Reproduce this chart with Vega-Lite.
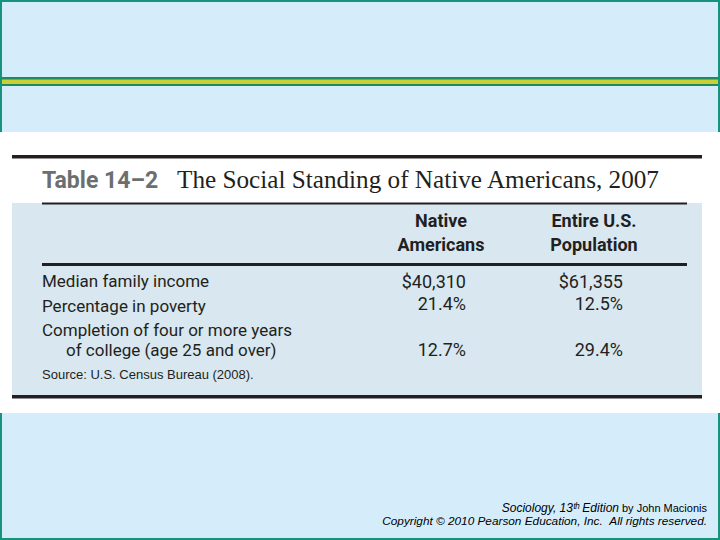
{
  "$schema": "https://vega.github.io/schema/vega-lite/v6.json",
  "width": 720,
  "height": 540,
  "padding": 0,
  "autosize": {"type": "none"},
  "background": "#D5EDFB",
  "config": {"view": {"stroke": null}},
  "datasets": {
    "rows": [
      {"item": "Median family income"},
      {"item": "Percentage in poverty"},
      {"item": "Completion of four or more years\n\u2800\u2800of college (age 25 and over)"}
    ],
    "cells": [
      {"item": "Median family income", "group": "Native Americans", "value": "$40,310"},
      {"item": "Median family income", "group": "Entire U.S. Population", "value": "$61,355"},
      {"item": "Percentage in poverty", "group": "Native Americans", "value": "21.4%"},
      {"item": "Percentage in poverty", "group": "Entire U.S. Population", "value": "12.5%"},
      {"item": "Completion of four or more years\n\u2800\u2800of college (age 25 and over)", "group": "Native Americans", "value": "12.7%"},
      {"item": "Completion of four or more years\n\u2800\u2800of college (age 25 and over)", "group": "Entire U.S. Population", "value": "29.4%"}
    ],
    "headers": [
      {"group": "Native Americans", "header": "Native\nAmericans"},
      {"group": "Entire U.S. Population", "header": "Entire U.S.\nPopulation"}
    ]
  },
  "layer": [
    {
      "data": {"values": [{}]},
      "layer": [
        {
          "mark": {"type": "rect", "fill": "#D5EDFB", "stroke": "#16937A", "strokeWidth": 2},
          "encoding": {
            "x": {"datum": 1, "type": "quantitative", "scale": {"domain": [0, 720], "nice": false, "zero": false}, "axis": null},
            "x2": {"datum": 719},
            "y": {"datum": 1, "type": "quantitative", "scale": {"domain": [0, 540], "nice": false, "zero": false, "reverse": true}, "axis": null},
            "y2": {"datum": 539}
          }
        },
        {
          "mark": {"type": "rect", "fill": "#1F8A5B"},
          "encoding": {
            "x": {"datum": 2, "type": "quantitative"}, "x2": {"datum": 718},
            "y": {"datum": 77, "type": "quantitative"}, "y2": {"datum": 86}
          }
        },
        {
          "mark": {"type": "rect", "fill": "#C8D036"},
          "encoding": {
            "x": {"datum": 2, "type": "quantitative"}, "x2": {"datum": 718},
            "y": {"datum": 79.5, "type": "quantitative"}, "y2": {"datum": 84}
          }
        },
        {
          "mark": {"type": "rect", "fill": "#FFFFFF"},
          "encoding": {
            "x": {"datum": 0, "type": "quantitative"}, "x2": {"datum": 720},
            "y": {"datum": 132, "type": "quantitative"}, "y2": {"datum": 413}
          }
        },
        {
          "mark": {"type": "rect", "fill": "#D8E7F0"},
          "encoding": {
            "x": {"datum": 12, "type": "quantitative"}, "x2": {"datum": 702},
            "y": {"datum": 203, "type": "quantitative"}, "y2": {"datum": 396}
          }
        },
        {
          "mark": {"type": "rect", "fill": "#231F20"},
          "encoding": {
            "x": {"datum": 12, "type": "quantitative"}, "x2": {"datum": 702},
            "y": {"datum": 155, "type": "quantitative"}, "y2": {"datum": 158.5}
          }
        },
        {
          "mark": {"type": "rect", "fill": "#231F20"},
          "encoding": {
            "x": {"datum": 42, "type": "quantitative"}, "x2": {"datum": 687},
            "y": {"datum": 202.5, "type": "quantitative"}, "y2": {"datum": 204.5}
          }
        },
        {
          "mark": {"type": "rect", "fill": "#231F20"},
          "encoding": {
            "x": {"datum": 42, "type": "quantitative"}, "x2": {"datum": 687},
            "y": {"datum": 263, "type": "quantitative"}, "y2": {"datum": 266}
          }
        },
        {
          "mark": {"type": "rect", "fill": "#231F20"},
          "encoding": {
            "x": {"datum": 12, "type": "quantitative"}, "x2": {"datum": 702},
            "y": {"datum": 395, "type": "quantitative"}, "y2": {"datum": 398.5}
          }
        },
        {
          "mark": {"type": "text", "text": "Table 14\u20132", "font": "Roboto", "fontWeight": "bold", "fontSize": 23, "fill": "#6D6E70", "align": "left", "baseline": "alphabetic"},
          "encoding": {"x": {"datum": 42, "type": "quantitative"}, "y": {"datum": 188, "type": "quantitative"}}
        },
        {
          "mark": {"type": "text", "text": "The Social Standing of Native Americans, 2007", "font": "Liberation Serif", "fontSize": 25.2, "fill": "#231F20", "align": "left", "baseline": "alphabetic"},
          "encoding": {"x": {"datum": 177, "type": "quantitative"}, "y": {"datum": 188, "type": "quantitative"}}
        },
        {
          "mark": {"type": "text", "text": "Source: U.S. Census Bureau (2008).", "font": "Liberation Sans", "fontSize": 13, "fill": "#231F20", "align": "left", "baseline": "alphabetic"},
          "encoding": {"x": {"datum": 42, "type": "quantitative"}, "y": {"datum": 379, "type": "quantitative"}}
        },
        {
          "mark": {"type": "text", "text": "Sociology, 13\u1d57\u02b0 Edition", "font": "Liberation Sans", "fontStyle": "italic", "fontSize": 12, "fill": "#000000", "align": "right", "baseline": "alphabetic"},
          "encoding": {"x": {"datum": 619, "type": "quantitative"}, "y": {"datum": 512, "type": "quantitative"}}
        },
        {
          "mark": {"type": "text", "text": "by John Macionis", "font": "Liberation Sans", "fontSize": 11, "fill": "#000000", "align": "right", "baseline": "alphabetic"},
          "encoding": {"x": {"datum": 707, "type": "quantitative"}, "y": {"datum": 512, "type": "quantitative"}}
        },
        {
          "mark": {"type": "text", "text": "Copyright \u00a9 2010 Pearson Education, Inc.\u00a0\u00a0All rights reserved.", "font": "Liberation Sans", "fontStyle": "italic", "fontSize": 11.8, "fill": "#000000", "align": "right", "baseline": "alphabetic"},
          "encoding": {"x": {"datum": 707, "type": "quantitative"}, "y": {"datum": 525, "type": "quantitative"}}
        }
      ]
    },
    {
      "data": {"name": "rows"},
      "mark": {"type": "text", "align": "left", "baseline": "alphabetic", "font": "Roboto", "fontSize": 17, "lineBreak": "\n", "lineHeight": 20, "fill": "#231F20"},
      "encoding": {
        "x": {"datum": 42, "type": "quantitative", "scale": {"domain": [0, 720], "nice": false, "zero": false}, "axis": null},
        "y": {"field": "item", "type": "nominal", "axis": null, "scale": {"type": "point", "padding": 0, "range": [287, 336], "domain": ["Median family income", "Percentage in poverty", "Completion of four or more years\n\u2800\u2800of college (age 25 and over)"]}},
        "text": {"field": "item"}
      }
    },
    {
      "data": {"name": "cells"},
      "mark": {"type": "text", "align": "right", "baseline": "alphabetic", "font": "Roboto", "fontSize": 18, "fill": "#231F20"},
      "encoding": {
        "x": {"field": "group", "type": "nominal", "axis": null, "scale": {"type": "point", "padding": 0, "range": [466, 623], "domain": ["Native Americans", "Entire U.S. Population"]}},
        "y": {"field": "item", "type": "nominal", "axis": null, "scale": {"type": "point", "padding": 0, "range": [287.5, 356], "domain": ["Median family income", "Percentage in poverty", "", "Completion of four or more years\n\u2800\u2800of college (age 25 and over)"]}},
        "text": {"field": "value"}
      }
    },
    {
      "data": {"name": "headers"},
      "mark": {"type": "text", "align": "center", "baseline": "alphabetic", "font": "Roboto", "fontWeight": "bold", "fontSize": 18, "lineBreak": "\n", "lineHeight": 24, "fill": "#231F20"},
      "encoding": {
        "x": {"field": "group", "type": "nominal", "axis": null, "scale": {"type": "point", "padding": 0, "range": [441, 594], "domain": ["Native Americans", "Entire U.S. Population"]}},
        "y": {"datum": 227, "type": "quantitative", "axis": null, "scale": {"domain": [0, 540], "nice": false, "zero": false, "reverse": true}},
        "text": {"field": "header"}
      }
    }
  ],
  "resolve": {"scale": {"x": "independent", "y": "independent"}}
}
